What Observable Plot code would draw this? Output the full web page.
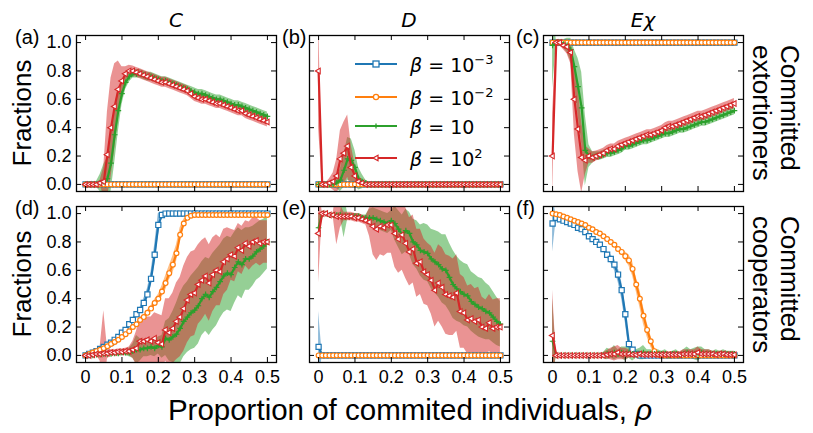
<!DOCTYPE html>
<html><head><meta charset="utf-8">
<script src="https://cdn.jsdelivr.net/npm/d3@7"></script>
<script src="https://cdn.jsdelivr.net/npm/@observablehq/plot@0.6"></script>
<style>
body{margin:0;background:#fff;}
#wrap{position:relative;width:813px;height:433px;overflow:hidden;font-family:"Liberation Sans",Arial,sans-serif;}
.panel{position:absolute;}
#overlay{position:absolute;left:0;top:0;pointer-events:none;}
</style></head><body><div id="wrap"></div><script>
// ---------- data ----------
const rho = [0,0.01,0.02,0.03,0.04,0.05,0.06,0.07,0.08,0.09,0.1,0.11,0.12,0.13,0.14,0.15,0.16,0.17,0.18,0.19,0.2,0.21,0.22,0.23,0.24,0.25,0.26,0.27,0.28,0.29,0.3,0.31,0.32,0.33,0.34,0.35,0.36,0.37,0.38,0.39,0.4,0.41,0.42,0.43,0.44,0.45,0.46,0.47,0.48,0.49,0.5];
const xTicks = [0,0.1,0.2,0.3,0.4,0.5];
const xTickLabels = ["0","0.1","0.2","0.3","0.4","0.5"];
const yTicks = [0,0.2,0.4,0.6,0.8,1.0];
const yTickLabels = ["0.0","0.2","0.4","0.6","0.8","1.0"];
const columnTitles = ["C","D","Eχ"];
const panelLetters = ["(a)","(b)","(c)","(d)","(e)","(f)"];
const rowLabels = [["Committed","extortioners"],["Committed","cooperators"]];
const legendLabels = [["β"," = 10","−3"],["β"," = 10","−2"],["β"," = 10",""],["β"," = 10","2"]];
const seriesColors = ["#1f77b4","#ff7f0e","#2ca02c","#d62728"];

// (a) C, committed extortioners
const aB = [0,0,0,0,0,0,0,0,0,0,0,0,0,0,0,0,0,0,0,0,0,0,0,0,0,0,0,0,0,0,0,0,0,0,0,0,0,0,0,0,0,0,0,0,0,0,0,0,0,0,0];
const aO = [0,0,0,0,0,0,0,0,0,0,0,0,0,0,0,0,0,0,0,0,0,0,0,0,0,0,0,0,0,0,0,0,0,0,0,0,0,0,0,0,0,0,0,0,0,0,0,0,0,0,0];
const aG = [0,0,0,0,0.01,0.02,0.04,0.15,0.35,0.52,0.64,0.72,0.76,0.78,0.78,0.78,0.77,0.76,0.76,0.75,0.74,0.73,0.73,0.72,0.71,0.70,0.69,0.68,0.67,0.66,0.65,0.64,0.64,0.63,0.62,0.61,0.60,0.60,0.59,0.58,0.57,0.56,0.56,0.55,0.54,0.53,0.52,0.51,0.50,0.49,0.48];
const aGs = [0.005,0.005,0.005,0.02,0.06,0.12,0.15,0.2,0.2,0.15,0.08,0.05,0.04,0.03,0.03,0.03,0.03,0.03,0.03,0.03,0.03,0.03,0.03,0.03,0.03,0.03,0.03,0.03,0.03,0.03,0.03,0.03,0.03,0.03,0.03,0.03,0.03,0.03,0.03,0.03,0.03,0.03,0.03,0.03,0.03,0.03,0.03,0.03,0.03,0.03,0.03];
const aR = [0,0,0,0,0.01,0.02,0.21,0.40,0.55,0.67,0.73,0.78,0.80,0.80,0.79,0.78,0.77,0.76,0.75,0.74,0.73,0.72,0.72,0.71,0.70,0.69,0.68,0.67,0.66,0.64,0.62,0.61,0.60,0.60,0.59,0.58,0.57,0.57,0.56,0.55,0.54,0.53,0.52,0.52,0.50,0.49,0.48,0.47,0.46,0.45,0.44];
const aRs = [0.005,0.005,0.005,0.01,0.02,0.1,0.3,0.35,0.3,0.2,0.1,0.05,0.04,0.035,0.035,0.035,0.035,0.035,0.035,0.035,0.035,0.035,0.035,0.035,0.035,0.035,0.035,0.035,0.035,0.035,0.035,0.035,0.035,0.035,0.035,0.035,0.035,0.035,0.035,0.035,0.035,0.035,0.035,0.035,0.035,0.035,0.035,0.035,0.035,0.035,0.035];

// (b) D, committed extortioners
const bB = [0,0,0,0,0,0,0,0,0,0,0,0,0,0,0,0,0,0,0,0,0,0,0,0,0,0,0,0,0,0,0,0,0,0,0,0,0,0,0,0,0,0,0,0,0,0,0,0,0,0,0];
const bO = [0,0,0,0,0,0,0,0,0,0,0,0,0,0,0,0,0,0,0,0,0,0,0,0,0,0,0,0,0,0,0,0,0,0,0,0,0,0,0,0,0,0,0,0,0,0,0,0,0,0,0];
const bG = [0,0,0,0,0,0.01,0.03,0.10,0.18,0.17,0.12,0.04,0.02,0.01,0,0,0,0,0,0,0,0,0,0,0,0,0,0,0,0,0,0,0,0,0,0,0,0,0,0,0,0,0,0,0,0,0,0,0,0,0];
const bGs = [0.005,0.005,0.005,0.01,0.02,0.04,0.08,0.12,0.15,0.15,0.12,0.08,0.05,0.02,0.01,0.01,0.01,0.01,0.01,0.01,0.01,0.01,0.01,0.01,0.01,0.01,0.01,0.01,0.01,0.01,0.01,0.01,0.01,0.01,0.01,0.01,0.01,0.01,0.01,0.01,0.01,0.01,0.01,0.01,0.01,0.01,0.01,0.01,0.01,0.01,0.01];
const bR = [0.80,0,0,0.01,0.02,0.06,0.18,0.22,0.27,0.12,0.06,0.02,0.01,0,0,0,0,0,0,0,0,0,0,0,0,0,0,0,0,0,0,0,0,0,0,0,0,0,0,0,0,0,0,0,0,0,0,0,0,0,0];
const bRs = [0.4,0.01,0.01,0.03,0.06,0.12,0.2,0.22,0.22,0.15,0.08,0.04,0.02,0.005,0.005,0.005,0.005,0.005,0.005,0.005,0.005,0.005,0.005,0.005,0.005,0.005,0.005,0.005,0.005,0.005,0.005,0.005,0.005,0.005,0.005,0.005,0.005,0.005,0.005,0.005,0.005,0.005,0.005,0.005,0.005,0.005,0.005,0.005,0.005,0.005,0.005];

// (c) E chi, committed extortioners
const cB = [1,1,1,1,1,1,1,1,1,1,1,1,1,1,1,1,1,1,1,1,1,1,1,1,1,1,1,1,1,1,1,1,1,1,1,1,1,1,1,1,1,1,1,1,1,1,1,1,1,1,1];
const cO = [1,1,1,1,1,1,1,1,1,1,1,1,1,1,1,1,1,1,1,1,1,1,1,1,1,1,1,1,1,1,1,1,1,1,1,1,1,1,1,1,1,1,1,1,1,1,1,1,1,1,1];
const cG = [0.98,1.0,1.0,0.99,0.98,0.95,0.83,0.69,0.54,0.24,0.20,0.19,0.20,0.20,0.21,0.22,0.22,0.23,0.24,0.25,0.27,0.27,0.28,0.29,0.30,0.31,0.31,0.32,0.33,0.34,0.35,0.36,0.36,0.37,0.38,0.39,0.39,0.40,0.41,0.42,0.43,0.44,0.44,0.45,0.46,0.47,0.48,0.49,0.50,0.51,0.52];
const cGs = [0.3,0.02,0.02,0.03,0.05,0.08,0.12,0.2,0.25,0.25,0.08,0.04,0.03,0.03,0.03,0.03,0.03,0.03,0.03,0.03,0.03,0.03,0.03,0.03,0.03,0.03,0.03,0.03,0.03,0.03,0.03,0.03,0.03,0.03,0.03,0.03,0.03,0.03,0.03,0.03,0.03,0.03,0.03,0.03,0.03,0.03,0.03,0.03,0.03,0.03,0.03];
const cR = [0.20,1.0,1.0,0.98,0.97,0.93,0.60,0.39,0.19,0.17,0.20,0.19,0.20,0.21,0.22,0.24,0.25,0.25,0.27,0.28,0.29,0.30,0.31,0.32,0.33,0.34,0.35,0.35,0.36,0.37,0.38,0.40,0.41,0.41,0.42,0.43,0.44,0.45,0.46,0.47,0.48,0.48,0.49,0.50,0.51,0.52,0.53,0.54,0.55,0.56,0.57];
const cRs = [0.3,0.02,0.02,0.03,0.05,0.08,0.25,0.3,0.25,0.1,0.05,0.04,0.035,0.035,0.035,0.035,0.035,0.035,0.035,0.035,0.035,0.035,0.035,0.035,0.035,0.035,0.035,0.035,0.035,0.035,0.035,0.035,0.035,0.035,0.035,0.035,0.035,0.035,0.035,0.035,0.035,0.035,0.035,0.035,0.035,0.035,0.035,0.035,0.035,0.035,0.035];

// (d) C, committed cooperators
const dB = [0,0.01,0.02,0.03,0.045,0.06,0.075,0.09,0.11,0.13,0.16,0.18,0.22,0.25,0.29,0.32,0.37,0.43,0.54,0.71,0.92,0.99,1,1,1,1,1,1,1,1,1,1,1,1,1,1,1,1,1,1,1,1,1,1,1,1,1,1,1,1,1];
const dBs = [0.005,0.005,0.005,0.005,0.005,0.005,0.005,0.005,0.005,0.01,0.01,0.01,0.01,0.015,0.015,0.02,0.03,0.04,0.05,0.07,0.08,0.02,0.005,0.005,0.005,0.005,0.005,0.005,0.005,0.005,0.005,0.005,0.005,0.005,0.005,0.005,0.005,0.005,0.005,0.005,0.005,0.005,0.005,0.005,0.005,0.005,0.005,0.005,0.005,0.005,0.005];
const dO = [0,0.01,0.02,0.03,0.04,0.05,0.065,0.08,0.095,0.11,0.13,0.15,0.17,0.20,0.22,0.25,0.27,0.30,0.33,0.37,0.40,0.45,0.51,0.58,0.64,0.72,0.85,0.93,0.97,0.985,0.99,0.99,0.99,0.99,0.99,0.99,0.99,0.99,0.99,0.99,0.99,0.99,0.99,0.99,0.99,0.99,0.99,0.99,0.99,0.99,0.99];
const dOs = [0.005,0.005,0.005,0.005,0.005,0.005,0.005,0.005,0.005,0.005,0.005,0.005,0.01,0.01,0.01,0.01,0.015,0.02,0.02,0.025,0.03,0.04,0.05,0.05,0.06,0.06,0.05,0.03,0.01,0.005,0.005,0.005,0.005,0.005,0.005,0.005,0.005,0.005,0.005,0.005,0.005,0.005,0.005,0.005,0.005,0.005,0.005,0.005,0.005,0.005,0.005];
const dG = [0,0,0,0.005,0.005,0.01,0.01,0.01,0.015,0.015,0.02,0.02,0.02,0.03,0.04,0.04,0.05,0.05,0.06,0.05,0.07,0.06,0.12,0.11,0.13,0.15,0.19,0.24,0.27,0.30,0.32,0.35,0.40,0.43,0.41,0.45,0.48,0.52,0.56,0.58,0.57,0.62,0.66,0.64,0.68,0.68,0.70,0.73,0.75,0.77,0.80];
const dGs = [0.005,0.005,0.01,0.01,0.01,0.01,0.015,0.015,0.015,0.02,0.02,0.02,0.03,0.05,0.1,0.08,0.06,0.06,0.06,0.06,0.06,0.08,0.12,0.15,0.18,0.22,0.25,0.25,0.25,0.26,0.27,0.27,0.26,0.26,0.27,0.27,0.27,0.26,0.26,0.26,0.26,0.25,0.24,0.24,0.22,0.22,0.21,0.2,0.2,0.19,0.19];
const dR = [0,0,0.005,0.01,0.01,0.015,0.015,0.02,0.02,0.025,0.025,0.03,0.03,0.04,0.05,0.10,0.10,0.11,0.10,0.12,0.09,0.08,0.18,0.16,0.19,0.24,0.27,0.33,0.39,0.43,0.44,0.50,0.53,0.56,0.51,0.57,0.60,0.59,0.66,0.68,0.71,0.70,0.76,0.74,0.79,0.77,0.80,0.81,0.79,0.80,0.80];
const dRs = [0.005,0.005,0.01,0.01,0.05,0.3,0.04,0.02,0.02,0.02,0.02,0.02,0.03,0.06,0.12,0.18,0.15,0.16,0.17,0.18,0.2,0.2,0.22,0.24,0.25,0.27,0.28,0.3,0.3,0.3,0.3,0.28,0.28,0.27,0.27,0.26,0.25,0.24,0.23,0.22,0.18,0.18,0.17,0.17,0.16,0.17,0.17,0.16,0.16,0.15,0.15];

// (e) D, committed cooperators
const eB = [0.06,0,0,0,0,0,0,0,0,0,0,0,0,0,0,0,0,0,0,0,0,0,0,0,0,0,0,0,0,0,0,0,0,0,0,0,0,0,0,0,0,0,0,0,0,0,0,0,0,0,0];
const eBs = [0.25,0.005,0.005,0.005,0.005,0.005,0.005,0.005,0.005,0.005,0.005,0.005,0.005,0.005,0.005,0.005,0.005,0.005,0.005,0.005,0.005,0.005,0.005,0.005,0.005,0.005,0.005,0.005,0.005,0.005,0.005,0.005,0.005,0.005,0.005,0.005,0.005,0.005,0.005,0.005,0.005,0.005,0.005,0.005,0.005,0.005,0.005,0.005,0.005,0.005,0.005];
const eO = [0,0,0,0,0,0,0,0,0,0,0,0,0,0,0,0,0,0,0,0,0,0,0,0,0,0,0,0,0,0,0,0,0,0,0,0,0,0,0,0,0,0,0,0,0,0,0,0,0,0,0];
const eG = [0.9,1.0,1.0,0.99,0.99,0.99,0.99,0.98,0.98,0.98,0.98,0.98,0.97,0.97,0.97,0.97,0.96,0.95,0.94,0.93,0.95,0.93,0.89,0.85,0.88,0.86,0.80,0.78,0.74,0.73,0.72,0.68,0.66,0.64,0.61,0.60,0.55,0.50,0.47,0.45,0.43,0.42,0.38,0.36,0.34,0.33,0.31,0.30,0.27,0.24,0.22];
const eGs = [0.1,0.01,0.01,0.01,0.01,0.01,0.02,0.15,0.02,0.02,0.02,0.02,0.02,0.02,0.06,0.07,0.07,0.07,0.07,0.07,0.07,0.12,0.13,0.14,0.15,0.15,0.16,0.17,0.18,0.2,0.2,0.21,0.22,0.23,0.24,0.25,0.24,0.24,0.23,0.22,0.22,0.22,0.21,0.21,0.21,0.21,0.2,0.19,0.18,0.17,0.16];
const eR = [0.86,1.0,1.0,0.99,0.99,0.98,0.98,0.98,0.98,0.98,0.97,0.97,0.96,0.95,0.94,0.91,0.89,0.91,0.90,0.92,0.92,0.86,0.82,0.85,0.79,0.73,0.75,0.65,0.66,0.59,0.57,0.53,0.46,0.51,0.48,0.43,0.42,0.41,0.44,0.31,0.30,0.25,0.26,0.24,0.25,0.20,0.19,0.23,0.19,0.20,0.20];
const eRs = [0.35,0.01,0.01,0.01,0.01,0.2,0.08,0.03,0.03,0.03,0.03,0.03,0.03,0.03,0.1,0.2,0.22,0.2,0.2,0.2,0.2,0.24,0.24,0.25,0.25,0.24,0.24,0.24,0.23,0.23,0.22,0.24,0.26,0.27,0.28,0.28,0.28,0.27,0.27,0.26,0.25,0.24,0.24,0.23,0.23,0.21,0.2,0.2,0.2,0.2,0.2];

// (f) E chi, committed cooperators
const fB = [0.93,0.97,0.96,0.95,0.94,0.93,0.92,0.90,0.89,0.87,0.84,0.82,0.80,0.78,0.75,0.71,0.68,0.64,0.57,0.46,0.29,0.08,0.04,0.01,0,0,0,0,0,0,0,0,0,0,0,0,0,0,0,0,0,0,0,0,0,0,0,0,0,0,0];
const fBs = [0.2,0.01,0.01,0.01,0.01,0.01,0.01,0.01,0.01,0.01,0.01,0.01,0.01,0.01,0.01,0.02,0.03,0.04,0.05,0.06,0.06,0.04,0.02,0.005,0.005,0.005,0.005,0.005,0.005,0.005,0.005,0.005,0.005,0.005,0.005,0.005,0.005,0.005,0.005,0.005,0.005,0.005,0.005,0.005,0.005,0.005,0.005,0.005,0.005,0.005,0.005];
const fO = [1.0,0.995,0.99,0.98,0.97,0.96,0.95,0.94,0.93,0.92,0.90,0.89,0.87,0.86,0.84,0.82,0.80,0.78,0.75,0.73,0.70,0.67,0.61,0.50,0.40,0.28,0.18,0.10,0.03,0.005,0,0,0,0,0,0,0,0,0,0,0,0,0,0,0,0,0,0,0,0,0];
const fOs = [0.005,0.005,0.005,0.005,0.005,0.005,0.005,0.005,0.005,0.005,0.005,0.005,0.005,0.005,0.005,0.005,0.005,0.005,0.01,0.02,0.03,0.04,0.05,0.05,0.06,0.06,0.05,0.04,0.02,0.005,0.005,0.005,0.005,0.005,0.005,0.005,0.005,0.005,0.005,0.005,0.005,0.005,0.005,0.005,0.005,0.005,0.005,0.005,0.005,0.005,0.005];
const fG = [0.1,0,0,0,0,0,0,0,0,0,0,0,0,0,0,0.01,0.01,0.02,0.01,0.02,0.01,0.02,0.01,0.01,0.01,0.02,0.01,0.01,0.01,0.01,0.01,0.01,0,0.01,0.01,0,0.01,0.02,0.01,0.01,0.01,0.02,0.01,0.01,0.01,0.01,0.01,0.01,0.01,0.01,0.01];
const fGs = [0.3,0.005,0.005,0.005,0.005,0.005,0.005,0.005,0.005,0.005,0.005,0.005,0.01,0.01,0.02,0.04,0.03,0.05,0.03,0.04,0.05,0.04,0.05,0.03,0.04,0.05,0.03,0.03,0.02,0.03,0.02,0.03,0.02,0.02,0.03,0.02,0.03,0.04,0.03,0.04,0.05,0.04,0.03,0.03,0.02,0.03,0.02,0.03,0.02,0.02,0.02];
const fR = [0.14,0,0,0,0,0,0,0,0,0,0,0,0,0,0,0.005,0.01,0.01,0.02,0.01,0.01,0.01,0.005,0.005,0.01,0.005,0.005,0.005,0.005,0.005,0.005,0.005,0.005,0.005,0.005,0.005,0.01,0.01,0.01,0.01,0.02,0.01,0.01,0.01,0.01,0.005,0.01,0.01,0.005,0.005,0.005];
const fRs = [0.32,0.005,0.005,0.005,0.005,0.005,0.005,0.005,0.005,0.005,0.005,0.005,0.005,0.01,0.02,0.03,0.04,0.05,0.05,0.04,0.04,0.03,0.02,0.02,0.02,0.02,0.02,0.02,0.02,0.02,0.02,0.02,0.02,0.02,0.02,0.02,0.03,0.03,0.03,0.03,0.04,0.03,0.03,0.03,0.02,0.02,0.02,0.02,0.02,0.02,0.02];

// ---------- layout ----------
const colX = [76, 309, 543];
const rowY = [35, 206];
const W = 200, H = 156;

const panels = [
  {v:[aB,aO,aG,aR], s:[null,null,aGs,aRs]},
  {v:[bB,bO,bG,bR], s:[null,null,bGs,bRs]},
  {v:[cB,cO,cG,cR], s:[null,null,cGs,cRs]},
  {v:[dB,dO,dG,dR], s:[dBs,dOs,dGs,dRs]},
  {v:[eB,eO,eG,eR], s:[eBs,null,eGs,eRs]},
  {v:[fB,fO,fG,fR], s:[fBs,fOs,fGs,fRs]}
];

function table(v, s) {
  return rho.map((x, i) => ({rho: x, v: v[i], lo: s ? v[i] - s[i] : null, hi: s ? v[i] + s[i] : null}));
}

const wrap = document.getElementById("wrap");

panels.forEach((p, idx) => {
  const col = idx % 3, row = Math.floor(idx / 3);
  const mL = col === 0 ? 52 : 4, mR = 4, mT = 4, mB = row === 1 ? 30 : 4;
  const marks = [];
  p.v.forEach((v, k) => {
    if (p.s[k]) marks.push(Plot.areaY(table(v, p.s[k]), {x: "rho", y1: "lo", y2: "hi", fill: seriesColors[k], fillOpacity: 0.5, clip: true}));
  });
  const sym = [
    {symbol: "square", r: 2.9, fill: "white", strokeWidth: 1.2},
    {symbol: "circle", r: 2.4, fill: "white", strokeWidth: 1.2},
    {symbol: "plus", r: 2.0, fill: "none", strokeWidth: 1.2},
    {symbol: "triangle", r: 2.1, fill: "white", strokeWidth: 1.1, rotate: -90}
  ];
  p.v.forEach((v, k) => {
    const t = table(v, null);
    marks.push(Plot.line(t, {x: "rho", y: "v", stroke: seriesColors[k], strokeWidth: 2.2}));
    marks.push(Plot.dot(t, {x: "rho", y: "v", stroke: seriesColors[k], ...sym[k]}));
  });
  // inward ticks on all four sides
  marks.push(Plot.ruleX(xTicks, {x: d => d, insetTop: H - 5, stroke: "black"}));
  marks.push(Plot.ruleX(xTicks, {x: d => d, insetBottom: H - 5, stroke: "black"}));
  marks.push(Plot.ruleY(yTicks, {y: d => d, insetRight: W - 5, stroke: "black"}));
  marks.push(Plot.ruleY(yTicks, {y: d => d, insetLeft: W - 5, stroke: "black"}));
  marks.push(Plot.frame({stroke: "black", strokeWidth: 1.3}));
  if (row === 1) marks.push(Plot.text(xTicks, {x: d => d, text: (d, i) => xTickLabels[i], frameAnchor: "bottom", lineAnchor: "middle", dy: 15, fontSize: 18, fill: "black"}));
  if (col === 0) marks.push(Plot.text(yTicks, {y: d => d, text: (d, i) => yTickLabels[i], frameAnchor: "left", dx: -5, textAnchor: "end", fontSize: 18, fill: "black"}));
  const svg = Plot.plot({
    width: W + mL + mR, height: H + mT + mB,
    marginLeft: mL, marginRight: mR, marginTop: mT, marginBottom: mB,
    x: {domain: [-0.025, 0.525], axis: null},
    y: {domain: [-0.05, 1.05], axis: null},
    style: {background: "transparent", overflow: "visible", fontFamily: "'Liberation Sans', Arial, sans-serif", color: "black"},
    marks
  });
  svg.classList.add("panel");
  svg.style.left = (colX[col] - mL) + "px";
  svg.style.top = (rowY[row] - mT) + "px";
  svg.style.maxWidth = "none";
  wrap.appendChild(svg);
});

// ---------- overlay texts & legend ----------
const NS = "http://www.w3.org/2000/svg";
const ov = document.createElementNS(NS, "svg");
ov.setAttribute("id", "overlay");
ov.setAttribute("width", 813); ov.setAttribute("height", 433);
wrap.appendChild(ov);
function txt(x, y, s, attrs = {}) {
  const t = document.createElementNS(NS, "text");
  t.setAttribute("x", x); t.setAttribute("y", y);
  for (const k in attrs) t.setAttribute(k, attrs[k]);
  t.textContent = s; ov.appendChild(t); return t;
}
const SANS = "'Liberation Sans', Arial, sans-serif";
// column titles
columnTitles.forEach((s, i) => txt(colX[i] + W / 2, 27, s, {"text-anchor": "middle", "font-family": "'DejaVu Sans'", "font-style": "italic", "font-size": 20}));
// panel letters
panelLetters.forEach((s, i) => {
  const col = i % 3, row = Math.floor(i / 3);
  const x = col === 0 ? 15 : colX[col] - 27;
  txt(x, rowY[row] + 9, s, {"font-family": SANS, "font-size": 20});
});
// Fractions
rowY.forEach(y => {
  txt(0, 0, "Fractions", {"text-anchor": "middle", "font-family": SANS, "font-size": 26, transform: `translate(31,${y + H / 2}) rotate(-90)`});
});
// right row labels
rowLabels.forEach((lines, r) => {
  const y0 = rowY[r] + 10;
  txt(0, 0, lines[0], {"font-family": SANS, "font-size": 26, transform: `translate(781,${y0}) rotate(90)`});
  txt(0, 0, lines[1], {"font-family": SANS, "font-size": 26, transform: `translate(753,${y0}) rotate(90)`});
});
// x label
const xl = txt(410, 420, "Proportion of commited individuals, ", {"text-anchor": "middle", "font-family": SANS, "font-size": 29.5});
const rhoT = document.createElementNS(NS, "tspan"); rhoT.setAttribute("font-style", "italic"); rhoT.textContent = "ρ"; xl.appendChild(rhoT);

// legend (in panel b)
const legY = [64, 97, 126, 158];
const markerSvg = [
  (x, y, c) => `<rect x="${x-3}" y="${y-3}" width="6" height="6" fill="white" stroke="${c}" stroke-width="1.3"/>`,
  (x, y, c) => `<circle cx="${x}" cy="${y}" r="2.6" fill="white" stroke="${c}" stroke-width="1.3"/>`,
  (x, y, c) => `<path d="M${x-2.5},${y}H${x+2.5}M${x},${y-2.5}V${y+2.5}" stroke="${c}" stroke-width="1.3"/>`,
  (x, y, c) => `<path d="M${x-3},${y}L${x+2},${y-2.8}L${x+2},${y+2.8}Z" fill="white" stroke="${c}" stroke-width="1.2"/>`
];
let legHtml = "";
legendLabels.forEach((lab, i) => {
  const y = legY[i], c = seriesColors[i];
  legHtml += `<line x1="355" x2="397" y1="${y}" y2="${y}" stroke="${c}" stroke-width="2.2"/>` + markerSvg[i](376, y, c);
});
const g = document.createElementNS(NS, "g"); g.innerHTML = legHtml; ov.appendChild(g);
legendLabels.forEach((lab, i) => {
  const t = txt(410, legY[i] + 8, "", {"font-family": "'DejaVu Sans'", "font-size": 19});
  const a = document.createElementNS(NS, "tspan"); a.setAttribute("font-style", "italic"); a.textContent = lab[0]; t.appendChild(a);
  const b = document.createElementNS(NS, "tspan"); b.textContent = lab[1]; t.appendChild(b);
  if (lab[2]) { const s = document.createElementNS(NS, "tspan"); s.setAttribute("dy", -8); s.setAttribute("font-size", 13); s.textContent = lab[2]; t.appendChild(s); }
});
</script></body></html>
